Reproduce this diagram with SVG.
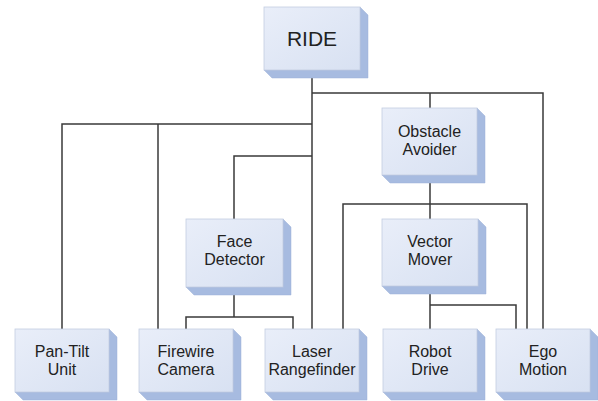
<svg xmlns="http://www.w3.org/2000/svg" width="598" height="401" viewBox="0 0 598 401">
<defs>
<linearGradient id="face" x1="0" y1="0" x2="1" y2="1">
<stop offset="0" stop-color="#e9eef9"/>
<stop offset="1" stop-color="#d8e1f2"/>
</linearGradient>
<style>
.ext{fill:#a7bbe0;stroke:#9fb2d8;stroke-width:0.5}
.front{fill:url(#face);stroke:#c3cde2;stroke-width:0.8}
.lbl{font-family:"Liberation Sans",Arial,sans-serif;font-size:16px;fill:#222;text-anchor:middle}
.big{font-size:21px}
.conn{fill:none;stroke:#3a3a3a;stroke-width:1.5}
</style>
</defs>
<rect width="598" height="401" fill="#fff"/>
<g id="connectors" class="conn">
<path d="M312,70 V329"/>
<path d="M312,93 H543 V329"/>
<path d="M430,93 V108"/>
<path d="M312,124 H62 V329"/>
<path d="M158,124 V329"/>
<path d="M312,156 H234 V219"/>
<path d="M234,287 V317"/>
<path d="M186,329 V317 H293 V329"/>
<path d="M430,175 V219"/>
<path d="M343,329 V204 H527 V329"/>
<path d="M430,286 V329"/>
<path d="M430,305 H516 V329"/>
</g>
<g id="ride">
<path class="ext" d="M360,7 L368,15 L368,78 L272,78 L264,70 L360,70 Z"/>
<rect class="front" x="264" y="7" width="96" height="63"/>
<text class="lbl big" x="312" y="46">RIDE</text>
</g>
<g id="obstacle-avoider">
<path class="ext" d="M477,108 L485,116 L485,183 L390,183 L382,175 L477,175 Z"/>
<rect class="front" x="382" y="108" width="95" height="67"/>
<text class="lbl" x="429.5" y="137">Obstacle</text>
<text class="lbl" x="429.5" y="155">Avoider</text>
</g>
<g id="face-detector">
<path class="ext" d="M283,219 L291,227 L291,295 L194,295 L186,287 L283,287 Z"/>
<rect class="front" x="186" y="219" width="97" height="68"/>
<text class="lbl" x="234.5" y="247">Face</text>
<text class="lbl" x="234.5" y="265">Detector</text>
</g>
<g id="vector-mover">
<path class="ext" d="M478,219 L486,227 L486,294 L390,294 L382,286 L478,286 Z"/>
<rect class="front" x="382" y="219" width="96" height="67"/>
<text class="lbl" x="430" y="247">Vector</text>
<text class="lbl" x="430" y="265">Mover</text>
</g>
<g id="pan-tilt-unit">
<path class="ext" d="M109,329 L117,337 L117,400 L23,400 L15,392 L109,392 Z"/>
<rect class="front" x="15" y="329" width="94" height="63"/>
<text class="lbl" x="62" y="357">Pan-Tilt</text>
<text class="lbl" x="62" y="375">Unit</text>
</g>
<g id="firewire-camera">
<path class="ext" d="M233,329 L241,337 L241,400 L147,400 L139,392 L233,392 Z"/>
<rect class="front" x="139" y="329" width="94" height="63"/>
<text class="lbl" x="186" y="357">Firewire</text>
<text class="lbl" x="186" y="375">Camera</text>
</g>
<g id="laser-rangefinder">
<path class="ext" d="M359,329 L367,337 L367,400 L273,400 L265,392 L359,392 Z"/>
<rect class="front" x="265" y="329" width="94" height="63"/>
<text class="lbl" x="312" y="357">Laser</text>
<text class="lbl" x="312" y="375">Rangefinder</text>
</g>
<g id="robot-drive">
<path class="ext" d="M477,329 L485,337 L485,400 L391,400 L383,392 L477,392 Z"/>
<rect class="front" x="383" y="329" width="94" height="63"/>
<text class="lbl" x="430" y="357">Robot</text>
<text class="lbl" x="430" y="375">Drive</text>
</g>
<g id="ego-motion">
<path class="ext" d="M590,329 L598,337 L598,400 L504,400 L496,392 L590,392 Z"/>
<rect class="front" x="496" y="329" width="94" height="63"/>
<text class="lbl" x="543" y="357">Ego</text>
<text class="lbl" x="543" y="375">Motion</text>
</g>
</svg>
